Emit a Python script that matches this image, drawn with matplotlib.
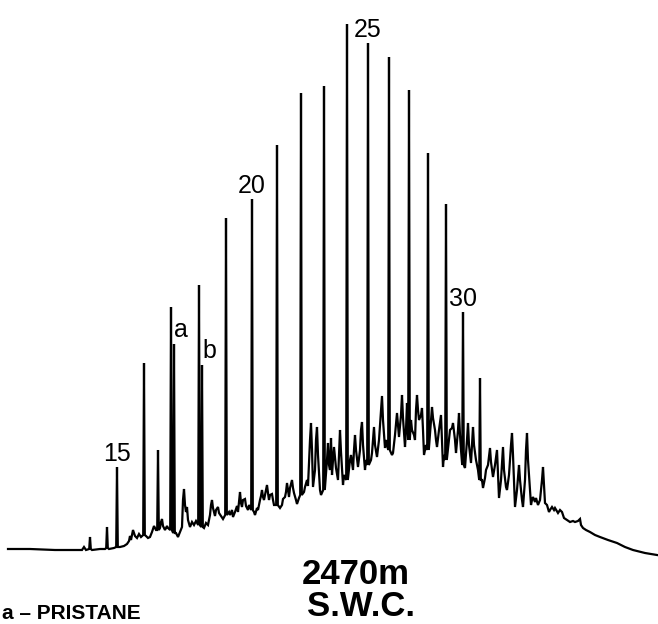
import numpy as np
import matplotlib.pyplot as plt

# gas chromatogram, 2470m S.W.C. -- retention in chart units, response in chart units
# resolved peaks (n-alkanes + isoprenoids): retention, apex response, response at peak foot
peak_rt = [90, 107, 117, 144, 158, 171, 174, 199, 202, 226, 252, 277,
           301, 324, 347, 368, 389, 409, 428, 446, 463, 480]
peak_top = [87, 97, 157, 261, 174, 317, 280, 339, 259, 406, 425, 479,
            531, 538, 600, 581, 567, 534, 471, 420, 312, 246]
peak_foot = [75, 76, 77, 89, 94, 94, 91, 99, 97, 109, 114, 119,
             129, 134, 144, 159, 174, 184, 174, 164, 159, 144]
peak_label = ['', '', '15', '', '', '', 'a', '', 'b', '', '20', '',
              '', '', '', '25', '', '', '', '', '30', '']

# unresolved hump + minor peaks (trace between the resolved peaks)
trace_rt = (
    [8, 30, 55, 72, 82, 84, 86, 92, 100, 105, 109, 114, 120, 124, 127, 129, 130, 131, 133, 135, 137, 139, 141]
    + [146, 148, 150, 152, 154, 156]
    + [160, 161, 162, 163, 165, 167, 168]
    + [176, 178, 180, 182, 183, 184, 185, 186, 187, 188, 190, 192, 194, 196]
    + [204, 206, 208, 210, 211, 212, 213, 215, 216, 218, 219, 221, 223]
    + [229, 230, 232, 233, 235, 237, 238, 240, 241, 242, 243, 245, 246, 248, 249]
    + [254, 255, 257, 258, 260, 261, 262, 263, 264, 265, 267, 268, 269, 270, 272, 273, 274]
    + [280, 282, 283, 285, 286, 287, 288, 289, 290, 292, 293, 294, 296, 297, 299]
    + [304, 305, 307, 308, 310, 311, 312, 313, 315, 316, 317, 318, 320, 321]
    + [327, 328, 329, 330, 331, 332, 333, 334, 336, 338, 339, 340, 341, 343, 344]
    + [350, 351, 353, 354, 355, 356, 358, 360, 361, 362, 363, 365, 366]
    + [371, 372, 373, 374, 375, 377, 379, 381, 382, 383, 385, 386]
    + [392, 393, 395, 397, 398, 399, 401, 402, 403, 405, 406, 407]
    + [411, 412, 414, 415, 416, 417, 418, 419, 421, 422, 423, 424, 426]
    + [431, 432, 433, 435, 436, 437, 439, 441, 442, 443, 444]
    + [449, 450, 452, 453, 455, 456, 458, 459, 460, 461]
    + [465, 467, 468, 469, 471, 472, 473, 474, 476, 478]
    + [482, 483, 485, 486, 488, 490, 491, 493, 495, 497, 498, 499, 501, 503, 504, 506, 507, 509, 511, 512,
       513, 515, 517, 519, 520, 522, 523, 525, 526, 527, 528, 531, 532, 533, 535, 536, 538, 540, 542, 543,
       544, 545, 547, 549, 550, 552, 554, 555, 558, 560, 562, 564, 567, 570, 573, 575, 578, 580, 581, 583,
       586, 590, 595, 600, 608, 617, 625, 633, 645, 657]
)
trace_resp = (
    [75, 75, 74, 74, 74, 77, 74, 74, 75, 75, 75, 76, 77, 78, 80, 83, 88, 84, 94, 88, 86, 90, 87]
    + [88, 86, 87, 92, 98, 94]
    + [96, 102, 105, 98, 94, 98, 96]
    + [91, 87, 92, 97, 124, 135, 119, 112, 117, 104, 97, 102, 99, 103]
    + [96, 101, 99, 109, 119, 124, 116, 108, 114, 117, 111, 108, 105]
    + [112, 109, 114, 107, 112, 118, 112, 132, 121, 117, 124, 125, 118, 114, 119]
    + [112, 109, 116, 114, 124, 128, 134, 127, 124, 129, 139, 131, 124, 129, 130, 124, 119]
    + [116, 119, 125, 127, 132, 141, 134, 127, 136, 144, 136, 131, 124, 120, 126]
    + [132, 137, 144, 138, 184, 201, 174, 137, 154, 184, 197, 169, 134, 129]
    + [164, 181, 159, 154, 186, 149, 164, 177, 156, 144, 169, 194, 172, 139, 149]
    + [164, 169, 154, 174, 189, 174, 157, 174, 194, 202, 179, 154, 164]
    + [164, 171, 184, 197, 179, 167, 184, 214, 228, 204, 176, 184]
    + [169, 171, 189, 211, 199, 187, 209, 229, 206, 177, 194, 221]
    + [204, 194, 189, 184, 214, 229, 214, 204, 209, 216, 194, 169, 179]
    + [204, 217, 206, 194, 184, 177, 194, 209, 184, 157, 169]
    + [184, 194, 196, 201, 184, 171, 194, 211, 189, 174]
    + [156, 184, 201, 179, 161, 179, 197, 179, 164, 154]
    + [144, 136, 146, 154, 159, 176, 162, 147, 159, 174, 149, 126, 144, 177, 154, 137, 134, 149, 179, 191,
       169, 117, 134, 159, 144, 124, 117, 144, 174, 191, 164, 119, 124, 127, 122, 126, 119, 124, 144, 157,
       139, 121, 119, 112, 114, 117, 114, 116, 111, 114, 112, 106, 104, 102, 103, 102, 103, 105, 99, 96,
       94, 92, 89, 87, 84, 81, 77, 74, 71, 69]
)

# merge peaks into the trace as narrow spikes
pts = list(zip(trace_rt, trace_resp))
for rt, top, foot in zip(peak_rt, peak_top, peak_foot):
    pts += [(rt - 0.8, foot), (rt, top), (rt + 0.8, foot)]
pts.sort(key=lambda p: p[0])
x = np.array([p[0] for p in pts])
y = np.array([p[1] for p in pts])

fig = plt.figure(figsize=(6.58, 6.24), dpi=100)
ax = fig.add_axes([0, 0, 1, 1])
ax.plot(x, y, color='black', lw=1.6, solid_joinstyle='miter')
ax.set_xlim(0, 658)
ax.set_ylim(0, 624)
ax.axis('off')

lab_font = dict(family='Liberation Sans', fontsize=18, color='black')
for rt, top, lab in zip(peak_rt, peak_top, peak_label):
    if not lab:
        continue
    if lab.isdigit():
        ax.annotate(lab, (rt, top), xytext=(0, 6), textcoords='offset pixels',
                    ha='center', va='baseline', **lab_font)
    else:
        ax.annotate(lab, (rt, top), xytext=(0, 7), textcoords='offset pixels',
                    ha='left', va='baseline', **lab_font)

bold = dict(family='Liberation Sans', fontweight='bold', color='black')
ax.text(356, 40, '2470m', ha='center', va='baseline', fontsize=25, **bold)
ax.text(361, 1, 'S.W.C.', ha='center', va='bottom', fontsize=25, **bold)
ax.text(2, 1, 'a \u2013 PRISTANE', ha='left', va='bottom', fontsize=15, **bold)

fig.savefig('out.png', dpi=100)
